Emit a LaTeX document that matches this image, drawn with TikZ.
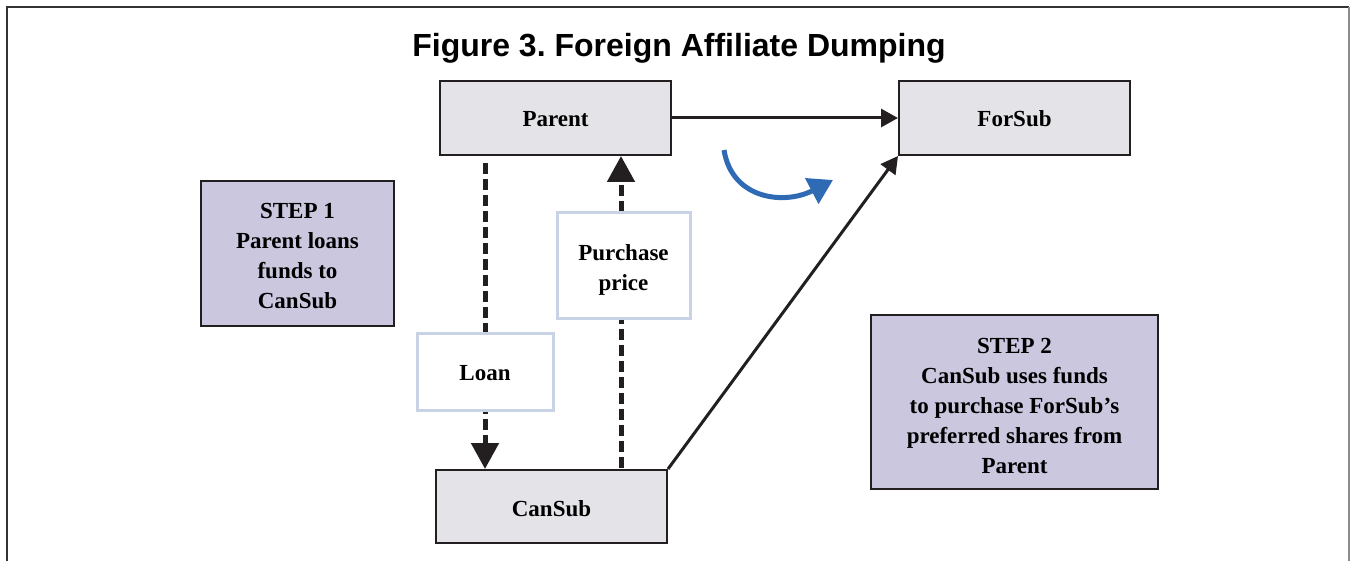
\documentclass[tikz,border=0pt]{standalone}
\usepackage{fontspec}
\setmainfont{Liberation Serif}
\newfontfamily\titlefont{Liberation Sans}
\usetikzlibrary{arrows.meta,backgrounds}
\definecolor{boxgray}{HTML}{E4E3E8}
\definecolor{lav}{HTML}{CAC7DF}
\definecolor{edge}{HTML}{231F20}
\definecolor{blu}{HTML}{2F6BB5}
\definecolor{lblue}{HTML}{C8D3E6}
\newcommand{\boxlines}[2][-3pt]{\raisebox{#1}[\height][\depth]{\begin{tabular}{@{}c@{}}#2\end{tabular}}}
\newcommand{\lowered}[2][-2pt]{\raisebox{#1}[\height][\depth]{#2}}
\tikzset{
  entity/.style={draw=edge,line width=2pt,fill=boxgray,minimum width=231pt,minimum height=74pt,inner sep=0pt,font=\fontsize{23}{30}\selectfont\bfseries},
  stepbox/.style={draw=edge,line width=2pt,fill=lav,inner sep=0pt,align=center,font=\fontsize{23}{30}\selectfont\bfseries},
  flowlabel/.style={draw=lblue,line width=3pt,fill=white,inner sep=0pt,align=center,font=\fontsize{23}{30}\selectfont\bfseries},
  solidarrow/.style={draw=edge,line width=3pt,-{Triangle[length=17pt,width=18pt]}},
  dasharrow/.style={draw=edge,line width=5pt,dash pattern=on 11pt off 5pt,-{Triangle[length=26pt,width=27pt]}},
}
\begin{document}
\frenchspacing
\begin{tikzpicture}[x=1pt,y=-1pt]
\useasboundingbox (0,0) rectangle (1351,561);
\draw[line width=1.5pt,color=black!80] (7,561) -- (7,7) -- (1349,7);
\draw[line width=1.2pt,color=black!45] (1349,7) -- (1349,561);
\node[anchor=base,font=\titlefont\fontsize{32}{36}\selectfont\bfseries] (title) at (679,57) {Figure 3. Foreign Affiliate Dumping};
\node[entity] (Parent) at (555.5,118) {\lowered[-1pt]{Parent}};
\node[entity] (ForSub) at (1014.5,118) {\lowered[-1pt]{ForSub}};
\node[entity,minimum height=73pt] (CanSub) at (551.5,506.5) {\lowered{CanSub}};
\node[stepbox,minimum width=193pt,minimum height=145pt] (step1) at (297.5,253.5) {\boxlines[-4pt]{STEP 1\\Parent loans\\funds to\\CanSub}};
\node[stepbox,minimum width=287pt,minimum height=174pt] (step2) at (1014.5,402) {\boxlines[-5pt]{STEP 2\\CanSub uses funds\\to purchase ForSub’s\\preferred shares from\\Parent}};
\node[flowlabel,minimum width=136pt,minimum height=77pt] (Loan) at (485,371.5) {\lowered{Loan}};
\node[flowlabel,minimum width=133pt,minimum height=105pt] (Purchase) at (623.5,265.5) {\boxlines[-4pt]{Purchase\\price}};
\coordinate (blueStart) at (724,150);
\coordinate (blueEnd) at (833,180);
\begin{scope}[on background layer]
\draw[dasharrow,shorten <=7pt] (Parent.south -| Loan) -- (CanSub.north -| Loan);
\draw[dasharrow,shorten <=1pt] (CanSub.north -| 621,0) -- (Parent.south -| 621,0);
\end{scope}
\draw[solidarrow] (Parent.east) -- (ForSub.west);
\draw[solidarrow] (CanSub.north east) -- (ForSub.south west);
\draw[blu,line width=5pt,-{Triangle[length=24pt,width=28pt]}] (blueStart) .. controls (732,200) and (785,205) .. (blueEnd);
\end{tikzpicture}
\end{document}
